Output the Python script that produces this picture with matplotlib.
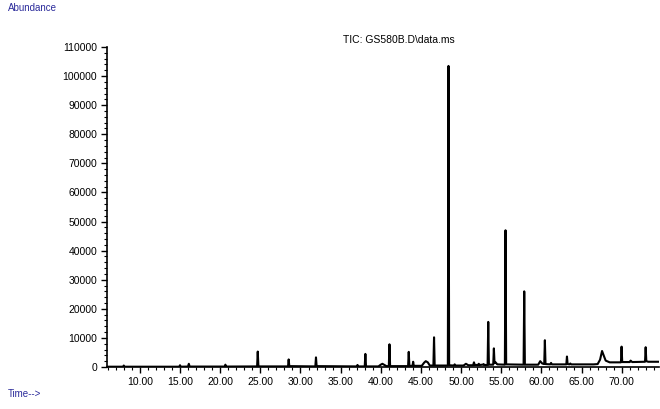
import matplotlib
matplotlib.use("Agg")
import matplotlib.pyplot as plt
from matplotlib.ticker import MultipleLocator, FuncFormatter

# TIC trace: (retention time in min, abundance)
time_min = [
    6.0, 7.9, 8.0, 8.1,
    14.9, 15.0, 15.1, 16.0, 16.1, 16.2,
    20.55, 20.65, 20.75,
    24.6, 24.68, 24.76, 24.9,
    28.45, 28.53, 28.61,
    31.85, 31.93, 32.01,
    37.0, 37.1, 37.2, 38.0, 38.08, 38.16,
    39.7, 40.0, 40.2, 40.45, 40.7,
    41.0, 41.08, 41.16,
    43.4, 43.48, 43.56, 43.95, 44.03, 44.11,
    45.1, 45.4, 45.6, 45.85, 46.1,
    46.55, 46.63, 46.71,
    48.35, 48.43, 48.51,
    49.1, 49.2, 49.3, 50.3, 50.6, 50.9,
    51.5, 51.6, 51.7, 52.1, 52.2, 52.3, 52.7, 52.8, 52.9,
    53.3, 53.38, 53.46,
    54.0, 54.08, 54.16, 54.3, 54.5,
    55.45, 55.53, 55.61,
    57.78, 57.86, 57.94,
    59.6, 59.85, 60.1,
    60.35, 60.43, 60.51,
    61.1, 61.2, 61.3,
    63.1, 63.18, 63.26, 63.5, 63.6, 63.7,
    66.5, 67.0, 67.3, 67.55, 67.75, 68.0, 68.5,
    69.9, 69.98, 70.06,
    71.0, 71.1, 71.3,
    72.9, 72.98, 73.06, 73.3,
    74.7,
]
abundance = [
    100, 100, 500, 100,
    100, 600, 100, 150, 1100, 150,
    150, 800, 150,
    200, 5300, 400, 200,
    200, 2600, 300,
    200, 3300, 300,
    200, 700, 200, 200, 4500, 200,
    200, 800, 1100, 700, 300,
    300, 7800, 300,
    300, 5200, 400, 400, 1800, 400,
    400, 1500, 2000, 1600, 500,
    500, 10200, 500,
    500, 103500, 600,
    500, 900, 500, 500, 1100, 600,
    600, 1600, 700, 700, 1100, 700, 800, 1000, 700,
    700, 15500, 800,
    800, 6400, 1400, 1600, 900,
    800, 47000, 900,
    800, 26000, 800,
    800, 2000, 1200,
    1000, 9200, 1000,
    900, 1400, 900,
    900, 3600, 1000, 900, 1200, 900,
    900, 1000, 2500, 5500, 4000, 2200, 1600,
    1600, 7000, 1700,
    1700, 2200, 1700,
    1800, 6800, 2000, 1800,
    1800,
]

title = "TIC: GS580B.D\\data.ms"
label_color = "#2b2b9b"

plt.rcParams["font.family"] = ["Liberation Sans", "DejaVu Sans"]

fig = plt.figure(figsize=(6.6, 4.09), dpi=100)
ax = fig.add_axes([0.162, 0.1027, 0.836, 0.7823])

ax.plot(time_min, abundance, color="black", linewidth=1.5)

ax.set_xlim(5.9, 74.6)
ax.set_ylim(0, 110000)

ax.spines["top"].set_visible(False)
ax.spines["right"].set_visible(False)
ax.spines["left"].set_linewidth(1.2)
ax.spines["bottom"].set_linewidth(1.2)

ax.xaxis.set_major_locator(MultipleLocator(5))
ax.xaxis.set_minor_locator(MultipleLocator(1))
ax.yaxis.set_major_locator(MultipleLocator(10000))
ax.yaxis.set_minor_locator(MultipleLocator(2000))
ax.xaxis.set_major_formatter(FuncFormatter(lambda v, p: f"{v:.2f}" if 10 <= v <= 70 else ""))
ax.yaxis.set_major_formatter(FuncFormatter(lambda v, p: f"{v:.0f}"))

ax.tick_params(axis="both", which="major", direction="out", length=4, width=1, labelsize=7.5, pad=3)
ax.tick_params(axis="both", which="minor", direction="out", length=2.5, width=0.8)

fig.text(0.605, 0.902, title, ha="center", va="center", fontsize=7.5)
fig.text(0.012, 0.98, "Abundance", ha="left", va="center", fontsize=7, color=label_color)
fig.text(0.012, 0.037, "Time-->", ha="left", va="center", fontsize=7, color=label_color)

fig.savefig("out.png", dpi=100)
